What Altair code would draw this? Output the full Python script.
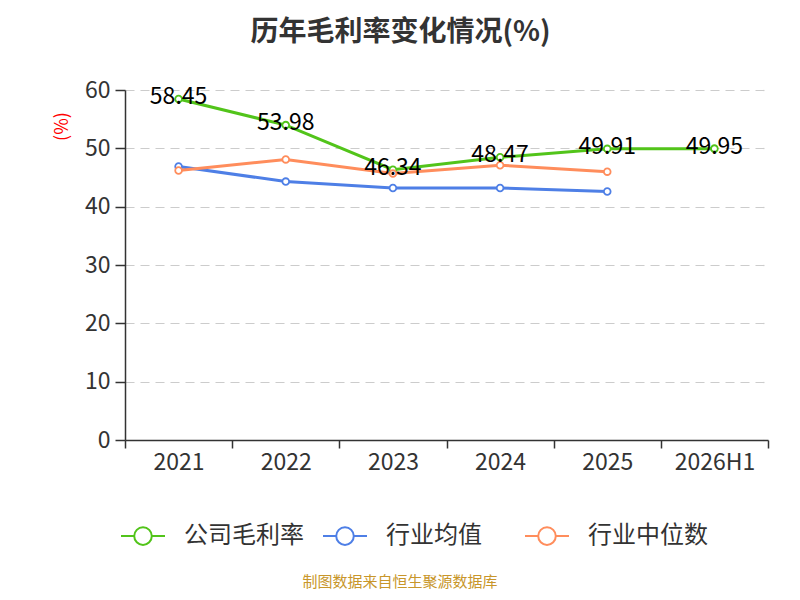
import altair as alt
import pandas as pd

years = ["2021", "2022", "2023", "2024", "2025", "2026H1"]
series_names = ["公司毛利率", "行业均值", "行业中位数"]
company = [58.45, 53.98, 46.34, 48.47, 49.91, 49.95]
ind_mean = [46.9, 44.3, 43.2, 43.2, 42.6, None]
ind_median = [46.2, 48.1, 45.7, 47.1, 46.0, None]
colors = ["#52c41a", "#4e7fe6", "#ff8d5c"]
y_ticks = [0, 10, 20, 30, 40, 50, 60]

rows = []
for name, vals in zip(series_names, [company, ind_mean, ind_median]):
    for i, (yr, v) in enumerate(zip(years, vals)):
        if v is not None:
            rows.append({"year": yr, "series": name, "value": v, "order": i})
df = pd.DataFrame(rows)
lab = df[df["series"] == series_names[0]].copy()
lab["label"] = lab["value"].map(lambda v: f"{v:.2f}")

FONT = "Noto Sans CJK SC"

x_enc = alt.X("year:N", sort=years,
              scale=alt.Scale(type="band", domain=years, paddingInner=0, paddingOuter=0),
              axis=alt.Axis(title=None, labelAngle=0, tickBand="extent", grid=False,
                            labelFontSize=23, labelColor="#333", labelPadding=3,
                            tickSize=8, tickColor="#333", domainColor="#333",
                            domainWidth=1.5, tickWidth=1.5, labelFont=FONT))
y_enc = alt.Y("value:Q", scale=alt.Scale(domain=[0, 60], nice=False, zero=True),
              axis=alt.Axis(title="(%)", values=y_ticks, titleColor="red",
                            titleFontSize=18, titleFontWeight="normal", titleX=-54, titleY=36,
                            titleAngle=270, titleFont=FONT,
                            labelFontSize=23, labelColor="#333", labelPadding=5,
                            labelFont=FONT,
                            tickSize=10, tickColor="#333", domainColor="#333",
                            domainWidth=1.5, tickWidth=1.5,
                            grid=True, gridDash=[9, 6], gridColor="#cccccc", gridWidth=1.2))

legend_symbol = ("M-1,0 L-0.4,0 M0.4,0 L1,0 M0.4,0 "
                 "A0.4,0.4 0 1 1 -0.4,0 A0.4,0.4 0 1 1 0.4,0")

lines = alt.Chart(df).mark_line(
    strokeWidth=3,
    point=alt.OverlayMarkDef(filled=False, fill="white", size=45, strokeWidth=1.8),
).encode(
    x=x_enc,
    y=y_enc,
    color=alt.Color("series:N", sort=series_names,
                    scale=alt.Scale(domain=series_names, range=colors),
                    legend=alt.Legend(title=None, orient="none", legendX=-5, legendY=423,
                                      direction="horizontal", columns=3, gridAlign="all",
                                      symbolType=legend_symbol, symbolSize=1936,
                                      symbolStrokeWidth=2, symbolFillColor="white",
                                      labelFontSize=24, labelColor="#333", labelFont=FONT,
                                      labelOffset=18, columnPadding=15, labelLimit=300)),
    order="order:Q",
)

labels = alt.Chart(lab).mark_text(fontSize=23, color="#000", dy=-2, font=FONT).encode(
    x=alt.X("year:N", sort=years),
    y="value:Q",
    text="label:N",
)

footer = alt.Chart(pd.DataFrame({"t": ["制图数据来自恒生聚源数据库"]})).mark_text(
    fontSize=15, color="#c8962a", font=FONT
).encode(x=alt.value(275), y=alt.value(492), text="t:N")

chart = alt.layer(lines, labels, footer).properties(
    width=643, height=350,
    autosize=alt.AutoSizeParams(type="none"),
    padding={"left": 117, "top": 82, "right": 24, "bottom": 152},
    title=alt.TitleParams("历年毛利率变化情况(%)", fontSize=28, fontWeight="bold",
                          color="#333", font=FONT, anchor="middle", dx=-46, offset=32),
).configure(font=FONT).configure_view(strokeWidth=0, stroke="transparent")

chart.save("out.html", embed_options={"renderer": "svg", "actions": False})
